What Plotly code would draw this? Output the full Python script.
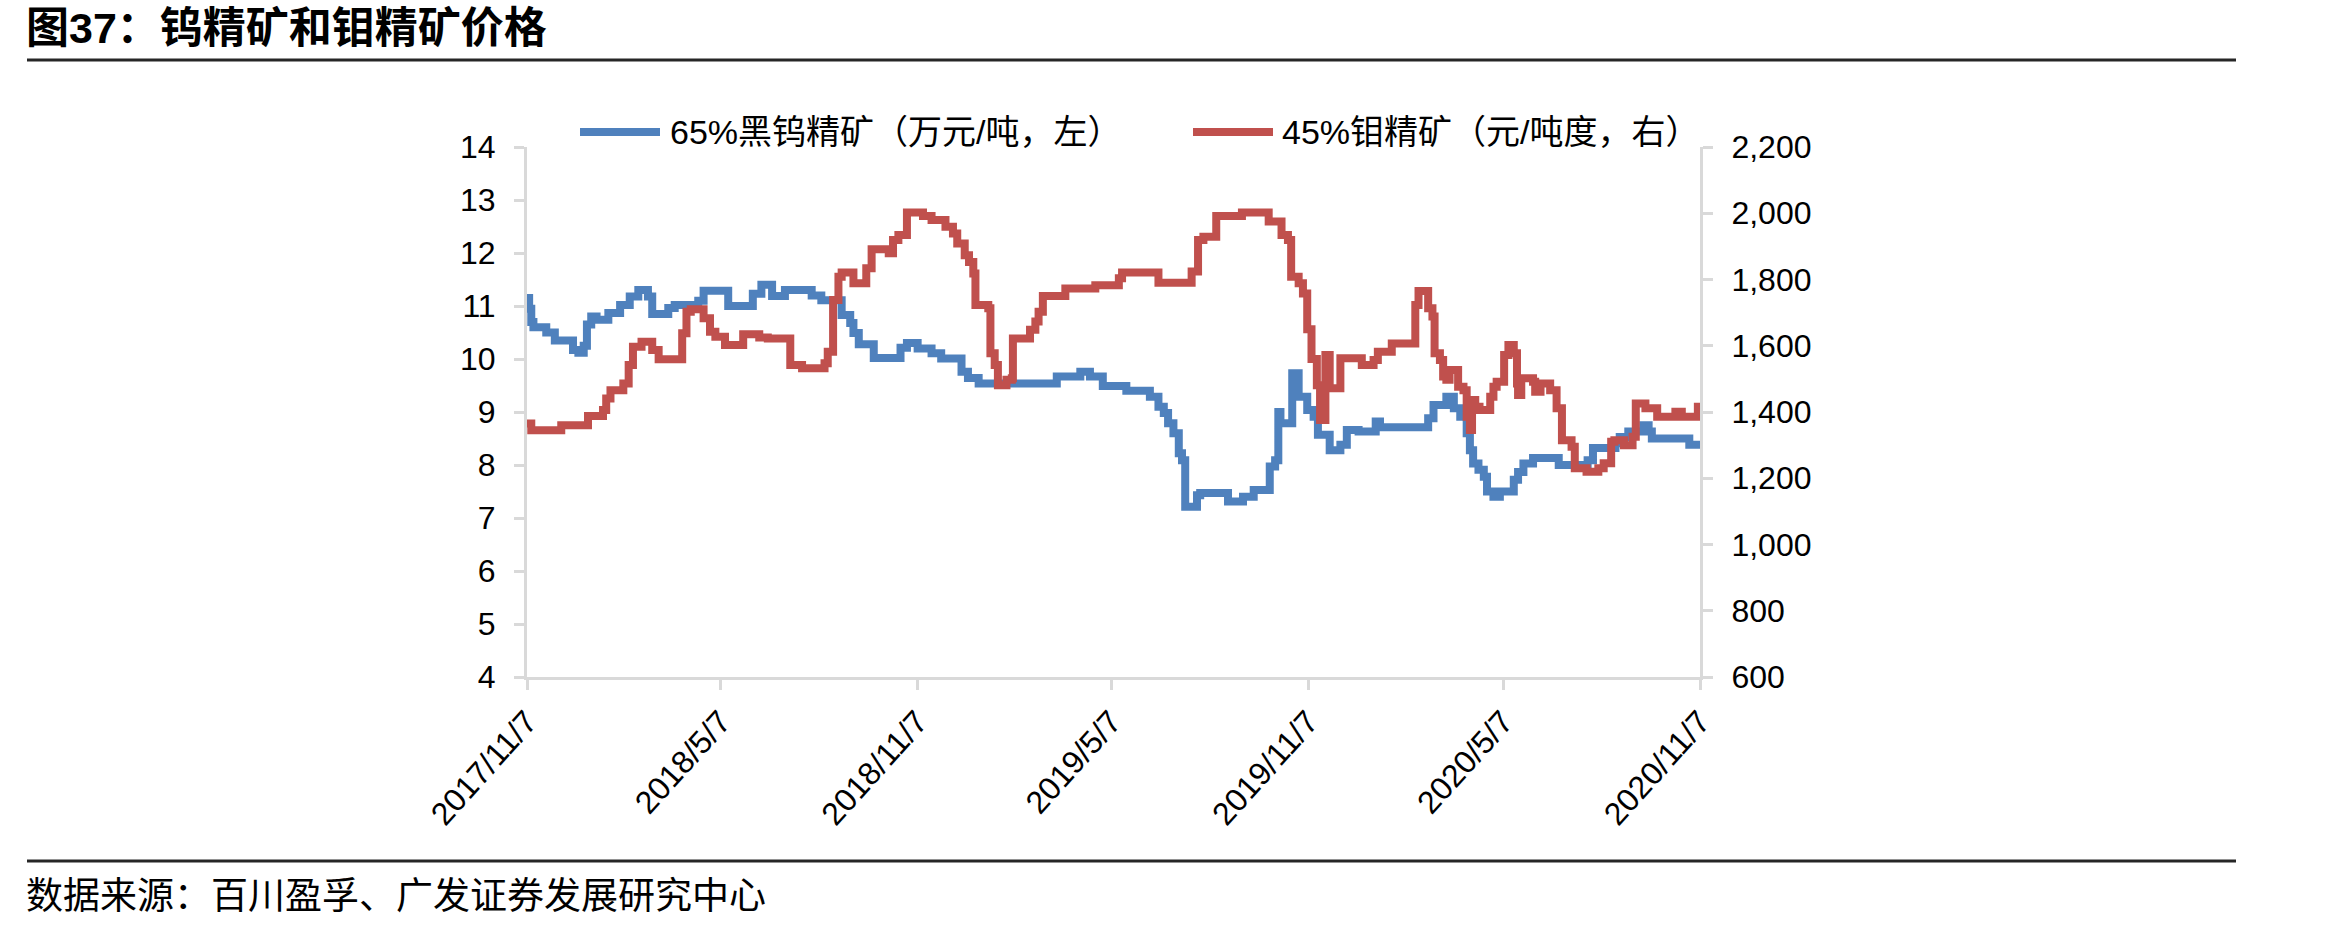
import plotly.graph_objects as go

# ---------------- data ----------------
W_DATES = [
    "2017-11-07", "2017-11-09", "2017-11-11", "2017-11-13", "2017-11-25", "2017-12-03", "2017-12-20",
    "2017-12-25", "2017-12-30", "2018-01-02", "2018-01-06", "2018-01-11", "2018-01-22", "2018-02-02",
    "2018-02-11", "2018-02-19", "2018-02-28", "2018-03-04", "2018-03-19", "2018-03-25", "2018-04-16",
    "2018-04-21", "2018-05-14", "2018-06-06", "2018-06-14", "2018-06-24", "2018-07-06", "2018-07-31",
    "2018-08-09", "2018-08-28", "2018-09-05", "2018-09-08", "2018-09-13", "2018-09-27", "2018-10-22",
    "2018-10-28", "2018-11-07", "2018-11-20", "2018-11-29", "2018-12-18", "2018-12-24", "2019-01-03",
    "2019-03-17", "2019-04-08", "2019-04-17", "2019-04-29", "2019-05-21", "2019-06-12", "2019-06-20",
    "2019-06-25", "2019-06-29", "2019-07-04", "2019-07-09", "2019-07-12", "2019-07-15", "2019-07-26",
    "2019-07-29", "2019-08-24", "2019-09-07", "2019-09-17", "2019-10-02", "2019-10-07", "2019-10-10",
    "2019-10-12", "2019-10-23", "2019-10-29", "2019-11-06", "2019-11-12", "2019-11-16", "2019-11-27",
    "2019-12-07", "2019-12-13", "2019-12-24", "2020-01-09", "2020-01-13", "2020-02-27", "2020-03-03",
    "2020-03-15", "2020-03-22", "2020-03-28", "2020-04-03", "2020-04-06", "2020-04-09", "2020-04-14",
    "2020-04-19", "2020-04-22", "2020-04-28", "2020-05-04", "2020-05-17", "2020-05-21", "2020-05-26",
    "2020-06-04", "2020-06-28", "2020-07-25", "2020-07-30", "2020-08-20", "2020-08-24", "2020-09-01",
    "2020-09-15", "2020-09-20", "2020-09-23", "2020-10-28", "2020-11-07",
]
W_VALUES = [
    11.15, 10.95, 10.7, 10.6, 10.5, 10.35, 10.17,
    10.12, 10.25, 10.65, 10.8, 10.74, 10.87, 11.02,
    11.18, 11.3, 11.18, 10.85, 10.96, 11.02, 11.1,
    11.29, 11.0, 11.23, 11.4, 11.19, 11.3, 11.2,
    11.11, 10.83, 10.68, 10.49, 10.28, 10.02, 10.21,
    10.3, 10.2, 10.11, 10.01, 9.76, 9.64, 9.54,
    9.67, 9.76, 9.67, 9.49, 9.4, 9.29, 9.1,
    8.98, 8.79, 8.6, 8.22, 8.09, 7.21, 7.43,
    7.47, 7.31, 7.4, 7.53, 7.97, 8.09, 9.0,
    8.79, 9.73, 9.29, 9.04, 8.91, 8.57, 8.28,
    8.38, 8.66, 8.63, 8.82, 8.71, 8.88, 9.13,
    9.29, 9.07, 8.91, 8.6, 8.28, 8.03, 7.91,
    7.78, 7.5, 7.4, 7.5, 7.72, 7.87, 8.03,
    8.13, 8.0, 8.09, 8.32, 8.41, 8.53, 8.63,
    8.75, 8.63, 8.5, 8.38, 8.35,
]

MO_DATES = [
    "2017-11-07", "2017-11-11", "2017-12-09", "2018-01-03", "2018-01-17", "2018-01-20", "2018-01-24",
    "2018-02-05", "2018-02-10", "2018-02-14", "2018-02-22", "2018-03-04", "2018-03-10", "2018-04-01",
    "2018-04-05", "2018-04-09", "2018-04-21", "2018-04-27", "2018-05-02", "2018-05-11", "2018-05-28",
    "2018-06-12", "2018-06-20", "2018-07-11", "2018-07-22", "2018-08-12", "2018-08-15", "2018-08-20",
    "2018-08-25", "2018-08-28", "2018-09-08", "2018-09-20", "2018-09-25", "2018-10-11", "2018-10-15",
    "2018-10-20", "2018-10-28", "2018-11-12", "2018-11-20", "2018-12-03", "2018-12-10", "2018-12-14",
    "2018-12-21", "2018-12-25", "2018-12-29", "2018-12-31", "2019-01-12", "2019-01-14", "2019-01-18",
    "2019-01-21", "2019-01-29", "2019-02-03", "2019-02-04", "2019-02-20", "2019-02-25", "2019-02-28",
    "2019-03-04", "2019-03-25", "2019-04-22", "2019-05-14", "2019-05-17", "2019-06-20", "2019-07-21",
    "2019-07-27", "2019-08-01", "2019-08-13", "2019-09-06", "2019-10-01", "2019-10-13", "2019-10-19",
    "2019-10-22", "2019-10-29", "2019-11-02", "2019-11-06", "2019-11-10", "2019-11-15", "2019-11-18",
    "2019-11-23", "2019-11-27", "2019-12-07", "2019-12-27", "2020-01-07", "2020-01-11", "2020-01-24",
    "2020-02-15", "2020-02-18", "2020-02-27", "2020-03-02", "2020-03-04", "2020-03-09", "2020-03-12",
    "2020-03-15", "2020-03-18", "2020-03-26", "2020-03-31", "2020-04-03", "2020-04-06", "2020-04-08",
    "2020-04-11", "2020-04-15", "2020-04-25", "2020-04-28", "2020-05-01", "2020-05-08", "2020-05-12",
    "2020-05-17", "2020-05-20", "2020-05-21", "2020-05-24", "2020-06-04", "2020-06-06", "2020-06-11",
    "2020-06-20", "2020-06-26", "2020-07-01", "2020-07-10", "2020-07-13", "2020-07-24", "2020-08-04",
    "2020-08-09", "2020-08-16", "2020-08-19", "2020-08-28", "2020-09-05", "2020-09-08", "2020-09-17",
    "2020-09-28", "2020-10-15", "2020-10-21", "2020-11-05", "2020-11-07",
]
MO_VALUES = [
    1365, 1345, 1360, 1388, 1406, 1441, 1466,
    1486, 1542, 1597, 1612, 1587, 1559, 1638,
    1703, 1710, 1683, 1642, 1627, 1602, 1635,
    1625, 1622, 1542, 1532, 1547, 1582, 1738,
    1808, 1821, 1789, 1834, 1891, 1879, 1919,
    1934, 2002, 1992, 1980, 1959, 1939, 1909,
    1873, 1853, 1818, 1723, 1713, 1577, 1542,
    1481, 1497, 1502, 1622, 1648, 1673, 1703,
    1750, 1773, 1783, 1804, 1821, 1790, 1824,
    1919, 1929, 1992, 2002, 1975, 1934, 1919,
    1808, 1789, 1758, 1650, 1560, 1481, 1376,
    1572, 1472, 1562, 1542, 1557, 1582, 1607,
    1723, 1765, 1713, 1688, 1577, 1557, 1507,
    1497, 1527, 1476, 1466, 1386, 1346, 1436,
    1416, 1406, 1446, 1476, 1491, 1572, 1602,
    1577, 1486, 1451, 1502, 1491, 1461, 1486,
    1466, 1411, 1315, 1295, 1230, 1220, 1230,
    1245, 1310, 1315, 1300, 1325, 1426, 1411,
    1386, 1401, 1386, 1416, 1416,
]

SERIES_NAMES = ["65%黑钨精矿（万元/吨，左）", "45%钼精矿（元/吨度，右）"]
X_TICKS = ["2017-11-07", "2018-05-07", "2018-11-07", "2019-05-07",
           "2019-11-07", "2020-05-07", "2020-11-07"]
X_TICK_LABELS = ["2017/11/7", "2018/5/7", "2018/11/7", "2019/5/7",
                 "2019/11/7", "2020/5/7", "2020/11/7"]
LEFT_TICKS = [4, 5, 6, 7, 8, 9, 10, 11, 12, 13, 14]
RIGHT_TICKS = [600, 800, 1000, 1200, 1400, 1600, 1800, 2000, 2200]
TITLE = "图37：钨精矿和钼精矿价格"
SOURCE = "数据来源：百川盈孚、广发证券发展研究中心"

# ---------------- style / geometry ----------------
W, H = 2348, 928
PL, PR, PT, PB = 527, 1700, 147, 677
BLUE, RED = "#4F81BD", "#C0504D"
AXIS_GRAY = "#D9D9D9"
FONT = "Liberation Sans, Arial, Noto Sans CJK SC, sans-serif"


def px_x(x):
    return (x - PL) / (PR - PL)


def px_y(y):
    return (PB - y) / (PB - PT)


fig = go.Figure()
fig.add_trace(go.Scatter(x=W_DATES, y=W_VALUES, mode="lines", name=SERIES_NAMES[0],
                         line=dict(color=BLUE, width=8, shape="hv"), yaxis="y"))
fig.add_trace(go.Scatter(x=MO_DATES, y=MO_VALUES, mode="lines", name=SERIES_NAMES[1],
                         line=dict(color=RED, width=8, shape="hv"), yaxis="y2"))

axis_common = dict(showgrid=False, zeroline=False, showline=True, linecolor=AXIS_GRAY,
                   linewidth=3, ticks="outside", ticklen=10, tickwidth=3, tickcolor=AXIS_GRAY,
                   tickfont=dict(size=32, color="black", family=FONT))

fig.update_layout(
    width=W, height=H,
    margin=dict(l=PL, r=W - PR, t=PT, b=H - PB, pad=0),
    paper_bgcolor="white", plot_bgcolor="white",
    font=dict(family=FONT, color="black"),
    showlegend=False,
    xaxis=dict(type="date", range=[X_TICKS[0], X_TICKS[-1]], tickmode="array",
               tickvals=X_TICKS, ticktext=X_TICK_LABELS, tickangle=-48, **axis_common),
    yaxis=dict(range=[LEFT_TICKS[0], LEFT_TICKS[-1]], tickmode="array", tickvals=LEFT_TICKS,
               ticklabelstandoff=12, **axis_common),
    yaxis2=dict(range=[RIGHT_TICKS[0], RIGHT_TICKS[-1]], tickmode="array", tickvals=RIGHT_TICKS,
                tickformat=",", overlaying="y", side="right", ticklabelstandoff=12, **axis_common),
)

shapes = []
annotations = []
# header and footer rules
for yy in (60, 861):
    shapes.append(dict(type="line", xref="paper", yref="paper", x0=px_x(27), x1=px_x(2236),
                       y0=px_y(yy), y1=px_y(yy), line=dict(color="#262626", width=3)))
# custom legend
for (x0, x1, xt), color, name in zip([(580, 660, 668), (1193, 1273, 1280)], [BLUE, RED], SERIES_NAMES):
    shapes.append(dict(type="line", xref="paper", yref="paper", x0=px_x(x0), x1=px_x(x1),
                       y0=px_y(132), y1=px_y(132), line=dict(color=color, width=8)))
    annotations.append(dict(xref="paper", yref="paper", x=px_x(xt), y=px_y(132), text=name,
                            showarrow=False, xanchor="left", yanchor="middle",
                            font=dict(size=34, family=FONT, color="black")))
# title and source
annotations.append(dict(xref="paper", yref="paper", x=px_x(24), y=px_y(28), text=TITLE,
                        showarrow=False, xanchor="left", yanchor="middle",
                        font=dict(size=43, family=FONT, color="black", weight="bold")))
annotations.append(dict(xref="paper", yref="paper", x=px_x(24), y=px_y(896), text=SOURCE,
                        showarrow=False, xanchor="left", yanchor="middle",
                        font=dict(size=37, family=FONT, color="black")))

fig.update_layout(shapes=shapes, annotations=annotations)
fig.write_html("out.html")
